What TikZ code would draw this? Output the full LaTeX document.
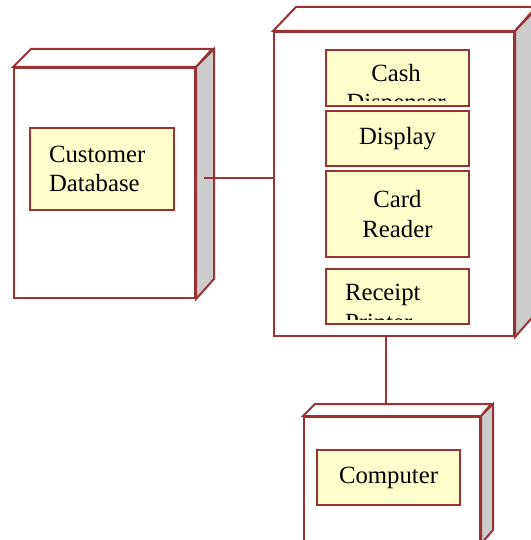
\documentclass[tikz,border=0pt]{standalone}
\usepackage{fontspec}
\setmainfont{Liberation Serif}
\definecolor{edge}{RGB}{153,51,51}
\definecolor{partfill}{RGB}{255,255,204}
\definecolor{sidefill}{RGB}{204,204,204}

\begin{document}
\begin{tikzpicture}[x=1pt, y=-1pt, line width=2pt,
        face/.style={draw=edge, line join=miter},
        front/.style={face, fill=white, anchor=north west, inner sep=0pt},
        part/.style={draw=edge, fill=partfill, anchor=north west, inner sep=0pt, minimum width=143pt},
        words/.style={font=\fontsize{24.75}{29.5}\selectfont, align=center}]
    \useasboundingbox (0,0) rectangle (530,540);
    % 数据库节点
    \node[front, minimum width=181pt, minimum height=230pt] (db) at (13,67) {};
    \draw[face, fill=white] (db.north west) -- ++(18,-18) -- ++(181,0) -- (db.north east) -- cycle;
    \draw[face, fill=sidefill] (db.north east) -- ++(18,-18) -- ++(0,230) -- (db.south east) -- cycle;
    \node[part, words, minimum width=144pt, minimum height=82pt, text width=106pt, inner xsep=19pt, align=left] (custdb) at (29,127) {Customer\\Database};

    % 取款机节点
    \node[front, minimum width=240pt, minimum height=304pt] (atm) at (273,31) {};
    \draw[face, fill=white] (atm.north west) -- ++(23,-24) -- ++(240,0) -- (atm.north east) -- cycle;
    \draw[face, fill=sidefill] (atm.north east) -- ++(23,-24) -- ++(0,304) -- (atm.south east) -- cycle;
    \node[part, minimum height=56pt] (cash) at (325,49) {};
    \begin{scope}
        \clip (326,50) rectangle (467,101);
        \node[words, anchor=base] at (396,111) {Cash\\Dispenser};
    \end{scope}
    \node[part, words, minimum height=55pt] (display) at (325,110) {Display};
    \node[part, words, minimum height=86pt] (reader) at (325,170) {Card\\Reader};
    \node[part, minimum height=55pt] (printer) at (325,268) {};
    \begin{scope}
        \clip (326,269) rectangle (467,319);
        \node[words, anchor=base west, align=left, inner sep=0pt] at (344,330) {Receipt\\Printer};
    \end{scope}

    % 计算机节点
    \node[front, minimum width=176pt, minimum height=126pt] (pc) at (303,416) {};
    \draw[face, fill=white] (pc.north west) -- ++(12,-12) -- ++(176,0) -- (pc.north east) -- cycle;
    \draw[face, fill=sidefill] (pc.north east) -- ++(12,-12) -- ++(0,126) -- (pc.south east) -- cycle;
    \node[part, words, minimum height=55pt] (computer) at (316,449) {Computer};

    % 连线
    \coordinate (dbside) at (204,178);
    \draw[face] (dbside) -- (dbside -| atm.west);
    \coordinate (pctop) at (386,404);
    \draw[face] (pctop |- atm.south) -- (pctop);
\end{tikzpicture}
\end{document}
